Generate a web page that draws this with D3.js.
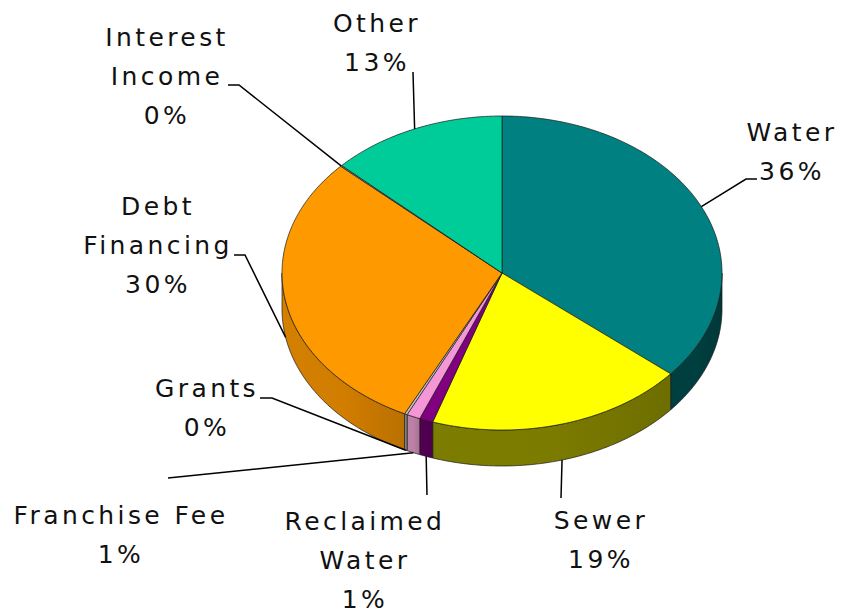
<!DOCTYPE html>
<html>
<head>
<meta charset="utf-8">
<script src="https://cdn.jsdelivr.net/npm/d3@7"></script>
<style>
  body { margin: 0; background: #fff; }
  .lbl { font-family: "DejaVu Sans", Verdana, sans-serif; font-size: 25px; letter-spacing: 3.4px; fill: #111; }
  .leader { stroke: #000; stroke-width: 1.5; fill: none; }
</style>
</head>
<body>
<div id="chart"></div>
<script>
// slice data, clockwise from 12 o'clock
const categories = ["Water", "Sewer", "Reclaimed Water", "Franchise Fee", "Grants", "Debt Financing", "Interest Income", "Other"];
const shares = [36.1, 19.0, 1.0, 1.0, 0.2, 29.6, 0.1, 13.0];
const labelLines = [["Water"], ["Sewer"], ["Reclaimed", "Water"], ["Franchise Fee"], ["Grants"], ["Debt", "Financing"], ["Interest", "Income"], ["Other"]];
const topColors = ["#008080", "#ffff00", "#800080", "#f596d6", "#c0c0c0", "#ff9900", "#999999", "#00cc99"];
const sideColors = ["#003c3c", "#767600", "#4e004e", "#b47a9f", "#888888", "#c87800", "#777777", "#009977"];

// label layout: text centre x, first baseline y, leader points (from label to slice)
const labelLayout = {
  "Water":           { x: 792, y: 141, pts: [[757, 179], [746, 179]] },
  "Sewer":           { x: 601, y: 529, pts: [[561, 498]] },
  "Reclaimed Water": { x: 365, y: 530, pts: [[427, 495]] },
  "Franchise Fee":   { x: 121, y: 524, pts: [[168, 478]] },
  "Grants":          { x: 207, y: 397, pts: [[260, 398], [272, 398]] },
  "Debt Financing":  { x: 158, y: 215, pts: [[234, 255], [245, 255]] },
  "Interest Income": { x: 167, y: 46,  pts: [[228, 85], [239, 85]] },
  "Other":           { x: 377, y: 32,  pts: [[413, 72]] }
};

const width = 842, height = 614;
const cx = 502, cy = 273, rx = 220, ry = 157, depth = 36;
const lineH = 39;

const data = categories.map((c, i) => ({
  name: c, value: shares[i], lines: labelLines[i], top: topColors[i], side: sideColors[i]
}));

const svg = d3.select("#chart").append("svg")
  .attr("width", width)
  .attr("height", height);

const defs = svg.append("defs");

const pie = d3.pie().sort(null).value(d => d.value).startAngle(0).endAngle(2 * Math.PI);
const arcs = pie(data);

// ellipse point for angle measured clockwise from top
const px = a => cx + rx * Math.sin(a);
const py = a => cy - ry * Math.cos(a);

function arcPoints(a0, a1, dy) {
  const n = Math.max(2, Math.ceil((a1 - a0) / 0.02));
  return d3.range(n + 1).map(k => {
    const a = a0 + (a1 - a0) * k / n;
    return [px(a), py(a) + dy];
  });
}

const line = d3.line();

// outer walls, only the front half is visible
const walls = svg.append("g");
arcs.forEach((d, i) => {
  const s = Math.max(d.startAngle, Math.PI / 2);
  const e = Math.min(d.endAngle, 3 * Math.PI / 2);
  if (e <= s) return;
  const top = arcPoints(s, e, 0);
  const bottom = arcPoints(s, e, depth).reverse();
  const xs = top.map(p => p[0]);
  const base = d3.color(d.data.side);
  const grad = defs.append("linearGradient")
    .attr("id", "wall" + i)
    .attr("gradientUnits", "userSpaceOnUse")
    .attr("x1", d3.min(xs)).attr("x2", d3.max(xs))
    .attr("y1", 0).attr("y2", 0);
  grad.append("stop").attr("offset", "0%").attr("stop-color", base.brighter(0.15));
  grad.append("stop").attr("offset", "50%").attr("stop-color", base.brighter(0.12));
  grad.append("stop").attr("offset", "100%").attr("stop-color", base.darker(0.2));
  walls.append("path")
    .attr("d", line(top.concat(bottom)) + "Z")
    .attr("fill", `url(#wall${i})`)
    .attr("stroke", "#1a1a1a")
    .attr("stroke-width", 0.7)
    .attr("stroke-linejoin", "round");
});

// top faces
svg.append("g").selectAll("path")
  .data(arcs)
  .join("path")
  .attr("d", d => line([[cx, cy]].concat(arcPoints(d.startAngle, d.endAngle, 0))) + "Z")
  .attr("fill", d => d.data.top)
  .attr("stroke", "#1a1a1a")
  .attr("stroke-width", 0.7)
  .attr("stroke-linejoin", "round");

// leader lines and labels
const labels = svg.append("g");
arcs.forEach(d => {
  const lay = labelLayout[d.data.name];
  const mid = (d.startAngle + d.endAngle) / 2;
  const onFront = Math.cos(mid) < 0;
  const end = [px(mid), py(mid) + (onFront ? depth : 0)];
  labels.append("path")
    .attr("class", "leader")
    .attr("d", line(lay.pts.concat([end])));

  const txt = labels.append("text")
    .attr("class", "lbl")
    .attr("text-anchor", "middle");
  d.data.lines.concat([Math.round(d.data.value) + "%"]).forEach((t, k) => {
    txt.append("tspan")
      .attr("x", lay.x)
      .attr("y", lay.y + k * lineH)
      .text(t);
  });
});
</script>
</body>
</html>
